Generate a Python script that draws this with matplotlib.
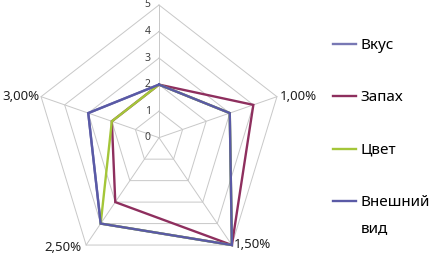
import numpy as np
import matplotlib.pyplot as plt

plt.rcParams['font.family'] = ['Noto Sans', 'DejaVu Sans']

categories = ['', '1,00%', '1,50%', '2,50%', '3,00%']
levels = [0, 1, 2, 3, 4, 5]

vkus = [2, 3, 5, 4, 3]
zapah = [2, 4, 5, 3, 2]
tsvet = [2, 3, 5, 4, 2]
vneshniy = [2, 3, 5, 4, 3]

series = [
    ('Вкус', vkus, '#7878b4'),
    ('Запах', zapah, '#8e2f5e'),
    ('Цвет', tsvet, '#a4c639'),
    ('Внешний', vneshniy, '#5a5aa6'),
]

n = len(categories)
ang = np.arange(n) * 2 * np.pi / n


def xy(r):
    r = np.asarray(r, dtype=float)
    return r * np.sin(ang), r * np.cos(ang)


fig = plt.figure(figsize=(4.37, 2.57), dpi=100)
ax = fig.add_axes([0.0801, -0.0521, 0.5675, 1.0327])
ax.set_xlim(-5, 5)
ax.set_ylim(-5, 5)
ax.axis('off')

grid = '#c8c8c8'
for lv in levels[1:]:
    gx, gy = xy([lv] * n)
    ax.plot(np.append(gx, gx[0]), np.append(gy, gy[0]), color=grid, lw=0.7, clip_on=False, zorder=1)
ex, ey = xy([levels[-1]] * n)
for i in range(n):
    ax.plot([0, ex[i]], [0, ey[i]], color=grid, lw=0.7, clip_on=False, zorder=1)

for lv in levels:
    ax.annotate(str(lv), (0, lv), xytext=(-6, 0), textcoords='offset points',
                ha='right', va='center', fontsize=7.5, color='#404040')

offs = [(0, 6, 'center', 'bottom'), (2, 0, 'left', 'center'), (1.5, 0.5, 'left', 'center'),
        (-3, -1.5, 'right', 'center'), (-1, 0, 'right', 'center')]
for i, lab in enumerate(categories):
    if not lab:
        continue
    dx, dy, ha, va = offs[i]
    ax.annotate(lab, (ex[i], ey[i]), xytext=(dx, dy), textcoords='offset points',
                ha=ha, va=va, fontsize=9.5, color='#202020')

for name, vals, col in series:
    px, py = xy(vals)
    ax.plot(np.append(px, px[0]), np.append(py, py[0]), color=col, lw=1.7,
            label=name, clip_on=False, zorder=3, solid_joinstyle='miter')

fig.legend(loc='upper left', bbox_to_anchor=(0.762, 0.852), frameon=False,
           fontsize=11, labelspacing=2.45, handlelength=1.5, handletextpad=0.3,
           borderpad=0, borderaxespad=0)
fig.text(0.826, 1 - 229 / 257, 'вид', fontsize=11, va='center', ha='left')

fig.savefig('out.png', dpi=100)
